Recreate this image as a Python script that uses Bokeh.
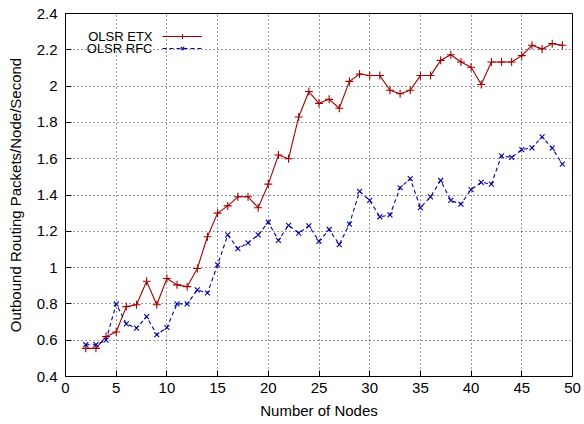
from bokeh.plotting import figure
from bokeh.models import Range1d, FixedTicker, Legend, LegendItem, Label
from bokeh.embed import file_html
from bokeh.resources import INLINE

nodes = list(range(2, 50))
etx = [0.555, 0.555, 0.62, 0.645, 0.785, 0.795, 0.925, 0.795, 0.94, 0.905, 0.895, 0.995,
       1.17, 1.30, 1.34, 1.39, 1.39, 1.33, 1.46, 1.62, 1.60, 1.83, 1.97, 1.905, 1.927, 1.878,
       2.026, 2.067, 2.058, 2.058, 1.977, 1.958, 1.977, 2.058, 2.058, 2.142, 2.173, 2.133,
       2.104, 2.009, 2.133, 2.133, 2.133, 2.168, 2.225, 2.205, 2.234, 2.225]
rfc = [0.575, 0.575, 0.60, 0.80, 0.69, 0.667, 0.73, 0.63, 0.67, 0.80, 0.80, 0.877,
       0.86, 1.015, 1.18, 1.105, 1.136, 1.18, 1.25, 1.15, 1.233, 1.19, 1.23, 1.145, 1.21,
       1.127, 1.24, 1.42, 1.37, 1.28, 1.29, 1.44, 1.49, 1.33, 1.39, 1.48, 1.37, 1.35,
       1.43, 1.47, 1.46, 1.616, 1.607, 1.65, 1.66, 1.72, 1.658, 1.57]
x_ticks = list(range(0, 51, 5))
y_ticks = [0.4, 0.6, 0.8, 1.0, 1.2, 1.4, 1.6, 1.8, 2.0, 2.2, 2.4]
y_tick_labels = {0.4: "0.4", 0.6: "0.6", 0.8: "0.8", 1.0: "1", 1.2: "1.2", 1.4: "1.4",
                 1.6: "1.6", 1.8: "1.8", 2.0: "2", 2.2: "2.2", 2.4: "2.4"}
series_names = ["OLSR ETX", "OLSR RFC"]

RED = "#a00000"
BLUE = "#0000a0"
FONT = "Liberation Sans"

p = figure(width=584, height=424, output_backend="svg", toolbar_location=None,
           x_range=Range1d(0, 50), y_range=Range1d(0.4, 2.4),
           min_border_left=65, min_border_right=12, min_border_top=13, min_border_bottom=48)
p.outline_line_color = "black"
p.outline_line_width = 1
p.background_fill_color = "white"

p.xaxis.ticker = FixedTicker(ticks=x_ticks)
p.yaxis.ticker = FixedTicker(ticks=y_ticks)
p.yaxis.major_label_overrides = y_tick_labels
for ax in (p.xaxis[0], p.yaxis[0]):
    ax.major_tick_in = 6
    ax.major_tick_out = 0
    ax.minor_tick_in = 0
    ax.minor_tick_out = 0
    ax.axis_line_color = "black"
    ax.major_tick_line_color = "black"
    ax.major_label_text_font = FONT
    ax.major_label_text_font_size = "15px"
    ax.major_label_text_color = "black"
    ax.axis_label_text_font = FONT
    ax.axis_label_text_font_size = "15px"
    ax.axis_label_text_font_style = "normal"
    ax.axis_label_text_color = "black"
p.xaxis.axis_label = "Number of Nodes"
p.yaxis.axis_label = "Outbound Routing Packets/Node/Second"
p.xaxis.major_label_standoff = 6
p.yaxis.major_label_standoff = 8
p.xaxis.axis_label_standoff = 6
p.yaxis.axis_label_standoff = 10

p.grid.grid_line_color = "black"
p.grid.grid_line_dash = "1 3"
p.grid.grid_line_width = 1
p.grid.grid_line_alpha = 0.8

l1 = p.line(nodes, etx, line_color=RED, line_width=1.1)
m1 = p.scatter(nodes, etx, marker="cross", size=8, line_color=RED, line_width=1.1)
l2 = p.line(nodes, rfc, line_color=BLUE, line_width=1.1, line_dash="4 3")
m2 = p.scatter(nodes, rfc, marker="x", size=7, line_color=BLUE, line_width=1.1)

legend = Legend(items=[LegendItem(label=" ", renderers=[l1, m1]),
                       LegendItem(label=" ", renderers=[l2, m2])],
                location=(97, 322), glyph_width=40, glyph_height=12, label_height=12,
                label_width=0, label_standoff=0, spacing=0, padding=0, margin=0,
                border_line_color=None, background_fill_alpha=0,
                label_text_font_size="1px")
p.add_layout(legend)
for i, name in enumerate(series_names):
    p.add_layout(Label(x=87, y=340 - 12 * i, x_units="screen", y_units="screen",
                       text=name, text_align="right", text_baseline="middle",
                       text_font=FONT, text_font_size="13px", text_color="black"))

open("out.html", "w").write(file_html(p, INLINE))
